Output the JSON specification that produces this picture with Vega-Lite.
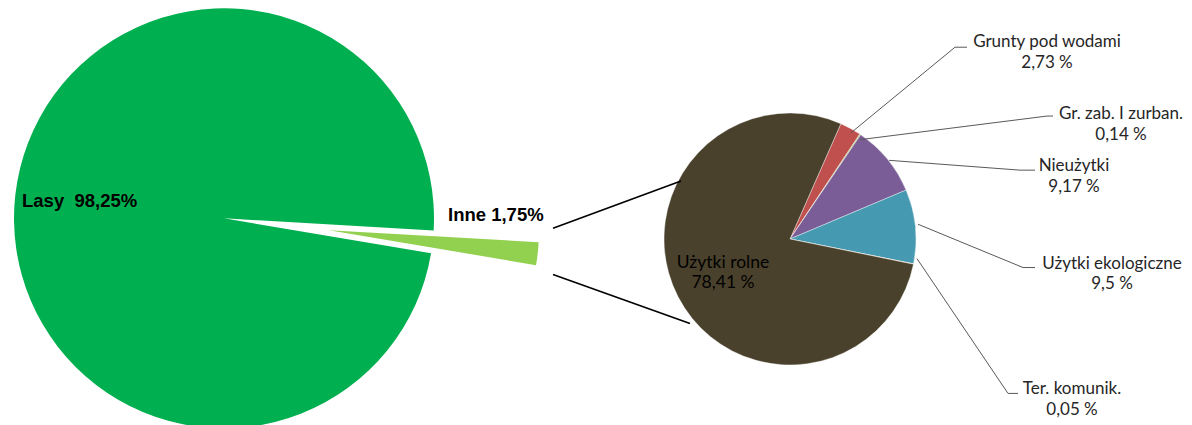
{
  "$schema": "https://vega.github.io/schema/vega-lite/v6.json",
  "width": 1192,
  "height": 425,
  "autosize": {"type": "fit", "contains": "padding"},
  "padding": 0,
  "background": "white",
  "config": {"view": {"stroke": null}},
  "datasets": {
    "left": [
      {"ord": 1, "cat": "Inne", "pct": 1.75},
      {"ord": 2, "cat": "Lasy", "pct": 98.25}
    ],
    "right": [
      {"ord": 1, "cat": "Grunty pod wodami", "pct": 2.73},
      {"ord": 2, "cat": "Gr. zab. I zurban.", "pct": 0.14},
      {"ord": 3, "cat": "Nieużytki", "pct": 9.17},
      {"ord": 4, "cat": "Użytki ekologiczne", "pct": 9.5},
      {"ord": 5, "cat": "Ter. komunik.", "pct": 0.05},
      {"ord": 6, "cat": "Użytki rolne", "pct": 78.41}
    ],
    "labels": [
      {"kind": "big", "text": "Lasy \u00a098,25%", "x": 22, "y": 204},
      {"kind": "big", "text": "Inne 1,75%", "x": 448, "y": 219},
      {"kind": "inner", "text": "Użytki rolne", "x": 723, "y": 267},
      {"kind": "inner", "text": "78,41 %", "x": 723, "y": 288},
      {"kind": "side", "text": "Grunty pod wodami", "x": 1047, "y": 43},
      {"kind": "side", "text": "2,73 %", "x": 1047, "y": 64},
      {"kind": "side", "text": "Gr. zab. I zurban.", "x": 1121, "y": 116},
      {"kind": "side", "text": "0,14 %", "x": 1121, "y": 137},
      {"kind": "side", "text": "Nieużytki", "x": 1074, "y": 169},
      {"kind": "side", "text": "9,17 %", "x": 1074, "y": 190},
      {"kind": "side", "text": "Użytki ekologiczne", "x": 1112, "y": 268},
      {"kind": "side", "text": "9,5 %", "x": 1112, "y": 289},
      {"kind": "side", "text": "Ter. komunik.", "x": 1072, "y": 396},
      {"kind": "side", "text": "0,05 %", "x": 1072, "y": 417}
    ],
    "lines": [
      {"kind": "conn", "g": "c1", "o": 1, "x": 553, "y": 232},
      {"kind": "conn", "g": "c1", "o": 2, "x": 681, "y": 184},
      {"kind": "conn", "g": "c2", "o": 1, "x": 553, "y": 279},
      {"kind": "conn", "g": "c2", "o": 2, "x": 690, "y": 329},
      {"kind": "lead", "g": "l1", "o": 1, "x": 851, "y": 135},
      {"kind": "lead", "g": "l1", "o": 2, "x": 955, "y": 48},
      {"kind": "lead", "g": "l1", "o": 3, "x": 967, "y": 48},
      {"kind": "lead", "g": "l2", "o": 1, "x": 860, "y": 142},
      {"kind": "lead", "g": "l2", "o": 2, "x": 1047, "y": 118},
      {"kind": "lead", "g": "l2", "o": 3, "x": 1053, "y": 118},
      {"kind": "lead", "g": "l3", "o": 1, "x": 889, "y": 163},
      {"kind": "lead", "g": "l3", "o": 2, "x": 1020, "y": 173},
      {"kind": "lead", "g": "l3", "o": 3, "x": 1035, "y": 173},
      {"kind": "lead", "g": "l4", "o": 1, "x": 918, "y": 228},
      {"kind": "lead", "g": "l4", "o": 2, "x": 1023, "y": 272},
      {"kind": "lead", "g": "l4", "o": 3, "x": 1035, "y": 272},
      {"kind": "lead", "g": "l5", "o": 1, "x": 917, "y": 263},
      {"kind": "lead", "g": "l5", "o": 2, "x": 1008, "y": 400},
      {"kind": "lead", "g": "l5", "o": 3, "x": 1018, "y": 400}
    ]
  },
  "layer": [
    {
      "data": {"name": "left"},
      "transform": [
        {"stack": "pct", "groupby": [], "sort": [{"field": "ord"}], "as": ["s0", "s1"]},
        {"filter": "datum.cat === 'Lasy'"}
      ],
      "mark": {"type": "arc", "outerRadius": 210},
      "encoding": {
        "x": {"datum": 224, "type": "quantitative", "scale": {"domain": [0, 1192], "nice": false, "zero": false}, "axis": null},
        "y": {"datum": 222, "type": "quantitative", "scale": {"domain": [0, 425], "reverse": true, "nice": false, "zero": false}, "axis": null},
        "theta": {"field": "s0", "type": "quantitative", "scale": {"domain": [0, 100], "range": [1.6284, 7.9116]}},
        "theta2": {"field": "s1"},
        "color": {"field": "cat", "type": "nominal", "legend": null,
          "scale": {"domain": ["Lasy", "Inne", "Grunty pod wodami", "Gr. zab. I zurban.", "Nieużytki", "Użytki ekologiczne", "Ter. komunik.", "Użytki rolne"],
                    "range": ["#00B050", "#92D050", "#C0504D", "#9BBB59", "#7A5C96", "#4599B0", "#F79646", "#4A412C"]}}
      }
    },
    {
      "data": {"name": "left"},
      "transform": [
        {"stack": "pct", "groupby": [], "sort": [{"field": "ord"}], "as": ["s0", "s1"]},
        {"filter": "datum.cat === 'Inne'"}
      ],
      "mark": {"type": "arc", "outerRadius": 210},
      "encoding": {
        "x": {"datum": 329, "type": "quantitative"},
        "y": {"datum": 234, "type": "quantitative"},
        "theta": {"field": "s0", "type": "quantitative", "scale": {"domain": [0, 100], "range": [1.6284, 7.9116]}},
        "theta2": {"field": "s1"},
        "color": {"field": "cat", "type": "nominal", "legend": null}
      }
    },
    {
      "data": {"name": "right"},
      "transform": [
        {"stack": "pct", "groupby": [], "sort": [{"field": "ord"}], "as": ["s0", "s1"]}
      ],
      "mark": {"type": "arc", "outerRadius": 126, "stroke": "#ffffff", "strokeWidth": 0.4},
      "encoding": {
        "x": {"datum": 790, "type": "quantitative"},
        "y": {"datum": 243, "type": "quantitative"},
        "theta": {"field": "s0", "type": "quantitative", "scale": {"domain": [0, 100], "range": [0.4154, 6.6986]}},
        "theta2": {"field": "s1"},
        "color": {"field": "cat", "type": "nominal", "legend": null}
      }
    },
    {
      "data": {"name": "lines"},
      "transform": [{"filter": "datum.kind === 'conn'"}],
      "mark": {"type": "line", "color": "#000000", "strokeWidth": 1.6},
      "encoding": {
        "x": {"field": "x", "type": "quantitative"},
        "y": {"field": "y", "type": "quantitative"},
        "detail": {"field": "g"},
        "order": {"field": "o"}
      }
    },
    {
      "data": {"name": "lines"},
      "transform": [{"filter": "datum.kind === 'lead'"}],
      "mark": {"type": "line", "color": "#595959", "strokeWidth": 1},
      "encoding": {
        "x": {"field": "x", "type": "quantitative"},
        "y": {"field": "y", "type": "quantitative"},
        "detail": {"field": "g"},
        "order": {"field": "o"}
      }
    },
    {
      "data": {"name": "labels"},
      "transform": [{"filter": "datum.kind === 'big'"}],
      "mark": {"type": "text", "align": "left", "baseline": "middle", "font": "Liberation Sans", "fontWeight": "bold", "fontSize": 18.5, "color": "#000000"},
      "encoding": {
        "x": {"field": "x", "type": "quantitative"},
        "y": {"field": "y", "type": "quantitative"},
        "text": {"field": "text"}
      }
    },
    {
      "data": {"name": "labels"},
      "transform": [{"filter": "datum.kind === 'inner'"}],
      "mark": {"type": "text", "align": "center", "baseline": "middle", "font": "Lato", "fontSize": 17.5, "color": "#000000"},
      "encoding": {
        "x": {"field": "x", "type": "quantitative"},
        "y": {"field": "y", "type": "quantitative"},
        "text": {"field": "text"}
      }
    },
    {
      "data": {"name": "labels"},
      "transform": [{"filter": "datum.kind === 'side'"}],
      "mark": {"type": "text", "align": "center", "baseline": "middle", "font": "Lato", "fontSize": 17, "color": "#262626"},
      "encoding": {
        "x": {"field": "x", "type": "quantitative"},
        "y": {"field": "y", "type": "quantitative"},
        "text": {"field": "text"}
      }
    }
  ],
  "resolve": {"scale": {"theta": "independent"}}
}
